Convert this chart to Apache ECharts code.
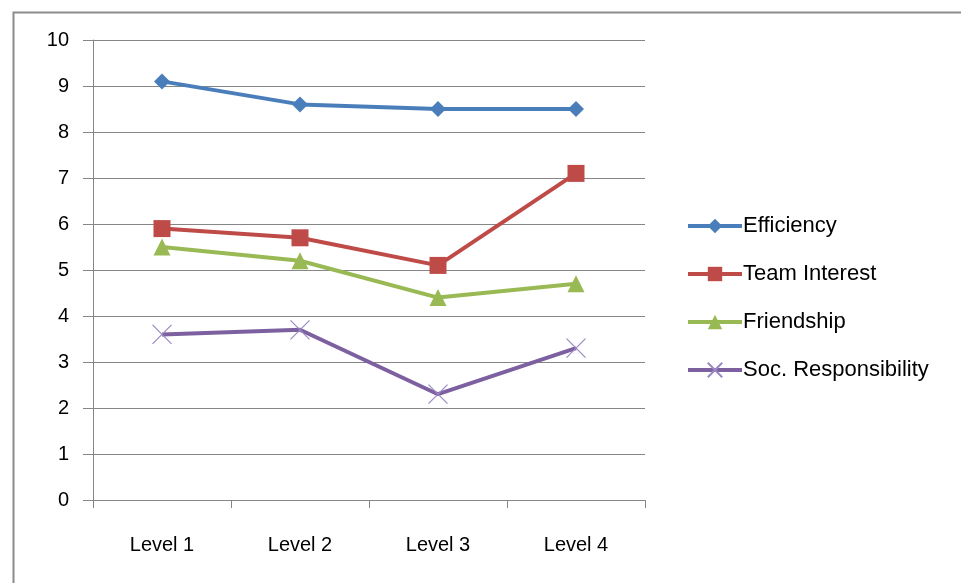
<!DOCTYPE html>
<html>
<head>
<meta charset="utf-8">
<script src="https://cdn.jsdelivr.net/npm/echarts@6/dist/echarts.min.js"></script>
<style>html,body{margin:0;padding:0;background:#fff}#c{width:961px;height:583px}</style>
</head>
<body>
<div id="c"></div>
<script>
var categories = ['Level 1', 'Level 2', 'Level 3', 'Level 4'];
var efficiency = [9.1, 8.6, 8.5, 8.5];
var teamInterest = [5.9, 5.7, 5.1, 7.1];
var friendship = [5.5, 5.2, 4.4, 4.7];
var socResponsibility = [3.6, 3.7, 2.3, 3.3];
var seriesNames = ['Efficiency', 'Team Interest', 'Friendship', 'Soc. Responsibility'];

var font = 'Liberation Sans, Arial, sans-serif';
var chart = echarts.init(document.getElementById('c'));
var crossPath = 'path://M0,0L10,10M10,0L0,10';
chart.setOption({
  animation: false,
  backgroundColor: '#fff',
  graphic: [{
    type: 'rect', left: 11, top: 10,
    shape: { width: 1000, height: 1000 },
    style: { fill: 'none', stroke: '#8c8c8c', lineWidth: 2 }
  }],
  grid: { left: 93, right: 316, top: 40, bottom: 83 },
  legend: {
    orient: 'vertical', left: 681, top: 210,
    itemWidth: 54, itemHeight: 18, itemGap: 26,
    textStyle: { fontFamily: font, fontSize: 22, color: '#000', padding: [0,0,0,-4] },
    lineStyle: { width: 4 },
    data: seriesNames
  },
  xAxis: {
    type: 'category', data: categories, boundaryGap: true,
    axisLine: { lineStyle: { color: '#868686', width: 1 } },
    axisTick: { show: true, length: 8, lineStyle: { color: '#868686' } },
    axisLabel: { fontFamily: font, fontSize: 20, color: '#000', margin: 35 }
  },
  yAxis: {
    type: 'value', min: 0, max: 10, interval: 1,
    axisLine: { show: true, lineStyle: { color: '#868686' } },
    axisTick: { show: true, length: 10, lineStyle: { color: '#868686' } },
    splitLine: { lineStyle: { color: '#868686', width: 1 } },
    axisLabel: { fontFamily: font, fontSize: 20, color: '#000', margin: 24 }
  },
  series: [
    { name: seriesNames[0], type: 'line', data: efficiency, symbol: 'diamond', symbolSize: 16,
      color: '#4a7ebb', lineStyle: { width: 4, color: '#4a7ebb' }, itemStyle: { color: '#4a7ebb' } },
    { name: seriesNames[1], type: 'line', data: teamInterest, symbol: 'rect', symbolSize: 17,
      color: '#be4b48', lineStyle: { width: 4, color: '#be4b48' }, itemStyle: { color: '#be4b48' } },
    { name: seriesNames[2], type: 'line', data: friendship, symbol: 'triangle', symbolSize: 17,
      color: '#98b954', lineStyle: { width: 4, color: '#98b954' }, itemStyle: { color: '#98b954' } },
    { name: seriesNames[3], type: 'line', data: socResponsibility, symbol: crossPath, symbolSize: 19,
      color: '#7d60a0', lineStyle: { width: 4, color: '#7d60a0' },
      itemStyle: { color: 'rgba(0,0,0,0)', borderColor: '#9b88c2', borderWidth: 1.2 } }
  ]
});
</script>
</body>
</html>
